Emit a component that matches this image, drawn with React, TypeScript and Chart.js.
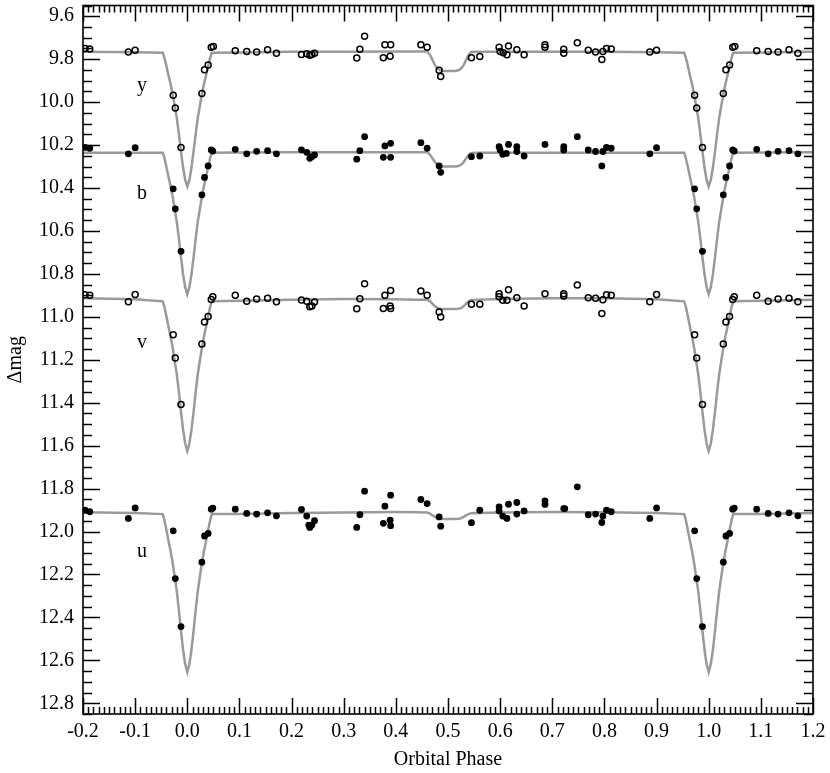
import React, { useEffect, useRef } from 'react';
import { Chart, registerables } from 'chart.js';

Chart.register(...registerables);

const FONT = '"Liberation Serif", "DejaVu Serif", serif';

const X_MIN = -0.2;
const X_MAX = 1.2;
const Y_MIN = 9.55;
const Y_MAX = 12.85;
const X_TICKS = [-0.2, -0.1, 0.0, 0.1, 0.2, 0.3, 0.4, 0.5, 0.6, 0.7, 0.8, 0.9, 1.0, 1.1, 1.2];
const Y_TICKS = [9.6, 9.8, 10.0, 10.2, 10.4, 10.6, 10.8, 11.0, 11.2, 11.4, 11.6, 11.8, 12.0, 12.2, 12.4, 12.6, 12.8];
const X_MINOR_STEP = 0.01;
const Y_MINOR_STEP = 0.05;

const X_TITLE = 'Orbital Phase';
const Y_TITLE = 'Δmag';

const BAND_NAMES = ['y', 'b', 'v', 'u'];
const LABEL_PHASE = -0.087;
const LABEL_MAG = [9.948, 10.453, 11.145, 12.118];

// model light curves over one cycle (phase 0..1)
const MODEL_PHASE = [
  0, 0.004, 0.008, 0.012, 0.016, 0.02, 0.024, 0.028, 0.032, 0.036, 0.04, 0.044, 0.047,
  0.1, 0.2, 0.3, 0.4, 0.44, 0.46,
  0.465, 0.47, 0.475, 0.48, 0.485, 0.49, 0.515, 0.52, 0.525, 0.53, 0.535, 0.54, 0.545,
  0.56, 0.6, 0.7, 0.8, 0.9,
  0.953, 0.956, 0.96, 0.964, 0.968, 0.972, 0.976, 0.98, 0.984, 0.988, 0.992, 0.996,
];
const MODEL_Y = [
  10.393, 10.362, 10.306, 10.231, 10.15, 10.075, 10.019, 9.963, 9.916, 9.876, 9.832, 9.792, 9.77,
  9.769, 9.766, 9.765, 9.764, 9.764, 9.764,
  9.778, 9.802, 9.828, 9.844, 9.852, 9.855, 9.855, 9.852, 9.844, 9.828, 9.802, 9.778, 9.766,
  9.766, 9.765, 9.765, 9.766, 9.768,
  9.77, 9.792, 9.832, 9.876, 9.916, 9.963, 10.019, 10.075, 10.15, 10.231, 10.306, 10.362,
];
const MODEL_B = [
  10.895, 10.862, 10.803, 10.724, 10.638, 10.559, 10.5, 10.44, 10.391, 10.348, 10.302, 10.259, 10.236,
  10.235, 10.234, 10.233, 10.233, 10.233, 10.233,
  10.243, 10.261, 10.28, 10.292, 10.298, 10.3, 10.3, 10.298, 10.292, 10.28, 10.261, 10.245, 10.237,
  10.236, 10.236, 10.236, 10.236, 10.236,
  10.236, 10.259, 10.302, 10.348, 10.391, 10.44, 10.5, 10.559, 10.638, 10.724, 10.803, 10.862,
];
const MODEL_V = [
  11.625, 11.59, 11.527, 11.444, 11.353, 11.27, 11.207, 11.144, 11.092, 11.046, 10.998, 10.952, 10.928,
  10.925, 10.92, 10.917, 10.918, 10.92, 10.921,
  10.927, 10.939, 10.951, 10.959, 10.963, 10.964, 10.964, 10.963, 10.959, 10.951, 10.939, 10.927, 10.922,
  10.921, 10.917, 10.914, 10.913, 10.918,
  10.928, 10.952, 10.998, 11.046, 11.092, 11.144, 11.207, 11.27, 11.353, 11.444, 11.527, 11.59,
];
const MODEL_U = [
  12.655, 12.618, 12.552, 12.464, 12.368, 12.28, 12.213, 12.147, 12.092, 12.044, 11.993, 11.945, 11.919,
  11.918, 11.914, 11.911, 11.909, 11.91, 11.912,
  11.916, 11.924, 11.932, 11.938, 11.941, 11.942, 11.942, 11.941, 11.938, 11.932, 11.924, 11.918, 11.915,
  11.914, 11.911, 11.909, 11.91, 11.914,
  11.919, 11.945, 11.993, 12.044, 12.092, 12.147, 12.213, 12.28, 12.368, 12.464, 12.552, 12.618,
];

// observations (phase 0..1)
const OBS_Y_PHASE = [
  0.028, 0.033, 0.04, 0.046, 0.05, 0.092, 0.114, 0.133, 0.154, 0.171, 0.219, 0.229, 0.235, 0.239, 0.244,
  0.325, 0.331, 0.34, 0.376, 0.379, 0.389, 0.39, 0.448, 0.46, 0.483, 0.486, 0.545, 0.561, 0.598, 0.6,
  0.606, 0.613, 0.616, 0.632, 0.646, 0.686, 0.686, 0.722, 0.722, 0.748, 0.769, 0.783, 0.795, 0.797,
  0.804, 0.813, 0.887, 0.9, 0.973, 0.977, 0.988,
];
const OBS_Y_MAG = [
  9.96, 9.849, 9.827, 9.744, 9.741, 9.761, 9.764, 9.767, 9.756, 9.772, 9.778, 9.775, 9.782, 9.778, 9.772,
  9.795, 9.754, 9.693, 9.793, 9.733, 9.786, 9.733, 9.733, 9.745, 9.852, 9.881, 9.793, 9.787, 9.744, 9.764,
  9.77, 9.779, 9.739, 9.756, 9.779, 9.733, 9.745, 9.754, 9.772, 9.724, 9.759, 9.767, 9.801, 9.764,
  9.75, 9.753, 9.767, 9.759, 9.968, 10.027, 10.211,
];
const OBS_B_PHASE = [
  0.028, 0.033, 0.04, 0.046, 0.049, 0.092, 0.114, 0.133, 0.154, 0.171, 0.219, 0.229, 0.235, 0.239, 0.244,
  0.325, 0.331, 0.34, 0.376, 0.379, 0.39, 0.39, 0.448, 0.46, 0.483, 0.486, 0.545, 0.561, 0.598, 0.6,
  0.605, 0.612, 0.616, 0.632, 0.632, 0.646, 0.686, 0.722, 0.722, 0.748, 0.769, 0.783, 0.795, 0.797,
  0.804, 0.813, 0.887, 0.9, 0.973, 0.977, 0.988,
];
const OBS_B_MAG = [
  10.432, 10.351, 10.297, 10.223, 10.228, 10.22, 10.241, 10.229, 10.226, 10.241, 10.222, 10.234, 10.262, 10.254, 10.246,
  10.266, 10.226, 10.161, 10.257, 10.204, 10.192, 10.257, 10.189, 10.215, 10.297, 10.327, 10.254, 10.251, 10.208, 10.223,
  10.243, 10.239, 10.197, 10.208, 10.23, 10.251, 10.197, 10.208, 10.223, 10.161, 10.223, 10.23, 10.297, 10.23,
  10.211, 10.215, 10.241, 10.212, 10.404, 10.497, 10.695,
];
const OBS_V_PHASE = [
  0.028, 0.033, 0.04, 0.046, 0.049, 0.092, 0.114, 0.133, 0.154, 0.171, 0.219, 0.229, 0.235, 0.239, 0.244,
  0.325, 0.331, 0.34, 0.376, 0.379, 0.389, 0.39, 0.39, 0.448, 0.46, 0.483, 0.486, 0.545, 0.561, 0.598, 0.598,
  0.605, 0.613, 0.616, 0.632, 0.646, 0.686, 0.722, 0.722, 0.748, 0.769, 0.783, 0.795, 0.797,
  0.804, 0.813, 0.887, 0.9, 0.973, 0.977, 0.988,
];
const OBS_V_MAG = [
  11.127, 11.024, 10.998, 10.919, 10.907, 10.899, 10.927, 10.917, 10.914, 10.93, 10.922, 10.927, 10.953, 10.95, 10.931,
  10.962, 10.916, 10.846, 10.961, 10.899, 10.95, 10.877, 10.961, 10.88, 10.899, 10.978, 11.001, 10.942, 10.942, 10.893, 10.907,
  10.923, 10.923, 10.874, 10.911, 10.95, 10.893, 10.903, 10.893, 10.852, 10.911, 10.914, 10.984, 10.92,
  10.897, 10.9, 10.93, 10.896, 11.084, 11.192, 11.409,
];
const OBS_U_PHASE = [
  0.028, 0.033, 0.04, 0.046, 0.049, 0.092, 0.114, 0.133, 0.154, 0.171, 0.219, 0.229, 0.233, 0.235, 0.239, 0.244,
  0.325, 0.331, 0.34, 0.376, 0.379, 0.389, 0.39, 0.39, 0.448, 0.46, 0.483, 0.486, 0.545, 0.561, 0.598, 0.598,
  0.605, 0.613, 0.616, 0.632, 0.632, 0.646, 0.686, 0.686, 0.722, 0.724, 0.748, 0.769, 0.783, 0.795, 0.797,
  0.804, 0.813, 0.887, 0.9, 0.973, 0.977, 0.988,
];
const OBS_U_MAG = [
  12.143, 12.021, 12.009, 11.896, 11.891, 11.896, 11.916, 11.919, 11.913, 11.927, 11.897, 11.928, 11.97, 11.981, 11.97, 11.95,
  11.981, 11.922, 11.812, 11.962, 11.882, 11.947, 11.831, 11.973, 11.851, 11.87, 11.932, 11.975, 11.959, 11.901, 11.885, 11.904,
  11.928, 11.939, 11.873, 11.865, 11.919, 11.904, 11.857, 11.874, 11.893, 11.893, 11.792, 11.922, 11.919, 11.958, 11.928,
  11.901, 11.908, 11.939, 11.89, 11.997, 12.219, 12.443,
];

type Pt = { x: number; y: number };

// repeat each phase-folded value at phase-1 and phase+1 within the plotted range
function fold(phases: number[], mags: number[]): Pt[] {
  const pts: Pt[] = [];
  phases.forEach((p, i) => {
    for (const k of [-1, 0, 1]) {
      const x = p + k;
      if (x >= X_MIN - 1e-9 && x <= X_MAX + 1e-9) pts.push({ x, y: mags[i] });
    }
  });
  return pts.sort((a, b) => a.x - b.x);
}

const framePlugin = {
  id: 'frameTicks',
  afterDatasetsDraw(chart: any) {
    const { ctx, chartArea, scales } = chart;
    const { left, right, top, bottom } = chartArea;
    const xs = scales.x;
    const ys = scales.y;
    ctx.save();
    ctx.strokeStyle = '#000';
    ctx.lineWidth = 1.5;
    ctx.beginPath();
    const nx = Math.round((X_MAX - X_MIN) / X_MINOR_STEP);
    for (let i = 0; i <= nx; i++) {
      const v = X_MIN + i * X_MINOR_STEP;
      const px = Math.round(xs.getPixelForValue(v)) + 0.5;
      const len = i % 10 === 0 ? 16 : 7;
      ctx.moveTo(px, bottom);
      ctx.lineTo(px, bottom - len);
      ctx.moveTo(px, top);
      ctx.lineTo(px, top + len);
    }
    const k0 = Math.ceil(Y_MIN / Y_MINOR_STEP - 1e-6);
    const k1 = Math.floor(Y_MAX / Y_MINOR_STEP + 1e-6);
    for (let k = k0; k <= k1; k++) {
      const v = k * Y_MINOR_STEP;
      const py = Math.round(ys.getPixelForValue(v)) + 0.5;
      const len = k % 4 === 0 ? 17 : 9;
      ctx.moveTo(left, py);
      ctx.lineTo(left + len, py);
      ctx.moveTo(right, py);
      ctx.lineTo(right - len, py);
    }
    ctx.stroke();
    ctx.lineWidth = 1.6;
    ctx.strokeRect(left, top, right - left, bottom - top);

    ctx.fillStyle = '#000';
    ctx.font = `20px ${FONT}`;
    ctx.textAlign = 'center';
    ctx.textBaseline = 'alphabetic';
    BAND_NAMES.forEach((name, i) => {
      ctx.fillText(name, xs.getPixelForValue(LABEL_PHASE), ys.getPixelForValue(LABEL_MAG[i]));
    });
    ctx.restore();
  },
};

export default function App() {
  const ref = useRef<HTMLCanvasElement | null>(null);

  useEffect(() => {
    if (!ref.current) return;
    const lineDs = (data: Pt[]) => ({
      type: 'scatter' as const,
      data,
      showLine: true,
      borderColor: '#9a9a9a',
      borderWidth: 2.5,
      pointRadius: 0,
      tension: 0,
      order: 2,
    });
    const openDs = (data: Pt[]) => ({
      type: 'scatter' as const,
      data,
      showLine: false,
      pointRadius: 3,
      pointBorderWidth: 1.5,
      pointBorderColor: '#000',
      pointBackgroundColor: 'rgba(255,255,255,0)',
      order: 1,
    });
    const filledDs = (data: Pt[]) => ({
      type: 'scatter' as const,
      data,
      showLine: false,
      pointRadius: 3.4,
      pointBorderWidth: 0,
      pointBorderColor: '#000',
      pointBackgroundColor: '#000',
      order: 1,
    });

    const chart = new Chart(ref.current, {
      type: 'scatter',
      data: {
        datasets: [
          openDs(fold(OBS_Y_PHASE, OBS_Y_MAG)),
          filledDs(fold(OBS_B_PHASE, OBS_B_MAG)),
          openDs(fold(OBS_V_PHASE, OBS_V_MAG)),
          filledDs(fold(OBS_U_PHASE, OBS_U_MAG)),
          lineDs(fold(MODEL_PHASE, MODEL_Y)),
          lineDs(fold(MODEL_PHASE, MODEL_B)),
          lineDs(fold(MODEL_PHASE, MODEL_V)),
          lineDs(fold(MODEL_PHASE, MODEL_U)),
        ] as any,
      },
      options: {
        responsive: false,
        animation: false,
        devicePixelRatio: 1,
        layout: { padding: { top: 3, right: 17, left: 0, bottom: 0 } },
        plugins: { legend: { display: false }, tooltip: { enabled: false } },
        scales: {
          x: {
            type: 'linear',
            min: X_MIN,
            max: X_MAX,
            grid: { display: false, drawTicks: false },
            border: { display: false },
            afterBuildTicks: (s: any) => {
              s.ticks = X_TICKS.map((v) => ({ value: v }));
            },
            afterFit: (s: any) => {
              s.height = 59;
              s.paddingLeft = 0;
              s.paddingRight = 0;
            },
            ticks: {
              padding: 6,
              color: '#000',
              font: { family: FONT, size: 20 },
              maxRotation: 0,
              autoSkip: false,
              callback: (v: any) => Number(v).toFixed(1),
            },
            title: {
              display: true,
              text: X_TITLE,
              color: '#000',
              font: { family: FONT, size: 20 },
              padding: { top: 0, bottom: 1 },
            },
          },
          y: {
            type: 'linear',
            reverse: true,
            min: Y_MIN,
            max: Y_MAX,
            grid: { display: false, drawTicks: false },
            border: { display: false },
            afterBuildTicks: (s: any) => {
              s.ticks = Y_TICKS.map((v) => ({ value: v }));
            },
            afterFit: (s: any) => {
              s.width = 83;
              s.paddingTop = 0;
              s.paddingBottom = 0;
            },
            ticks: {
              padding: 9,
              color: '#000',
              font: { family: FONT, size: 20 },
              autoSkip: false,
              callback: (v: any) => Number(v).toFixed(1),
            },
            title: {
              display: true,
              text: Y_TITLE,
              color: '#000',
              font: { family: FONT, size: 20 },
              padding: { top: 4, bottom: 0 },
            },
          },
        },
      },
      plugins: [framePlugin],
    });
    return () => chart.destroy();
  }, []);

  return (
    <div style={{ position: 'absolute', left: 0, top: 0, width: 830, height: 773, background: '#fff' }}>
      <canvas ref={ref} width={830} height={773} />
    </div>
  );
}
